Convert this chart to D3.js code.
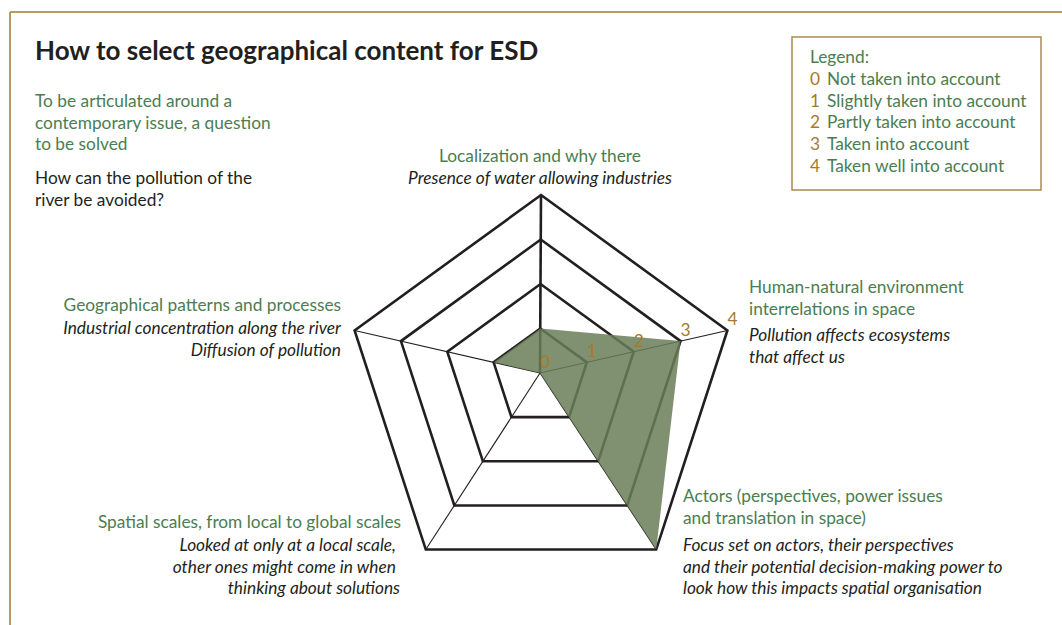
<!DOCTYPE html>
<html>
<head>
<meta charset="utf-8">
<script src="https://cdn.jsdelivr.net/npm/d3@7"></script>
<style>
  body { margin: 0; background: #fff; }
  svg text { font-family: Lato, "Open Sans", sans-serif; }
</style>
</head>
<body>
<svg id="chart" width="1062" height="625"></svg>
<script>
// axis names, clockwise from top
var axisNames = ["Localization", "Human-natural", "Actors", "Spatial scales", "Geographical patterns"];
// score on each axis (0..4)
var scores = [1, 3, 4, 0, 1];
// levels of the grid / scale labels
var levels = [0, 1, 2, 3, 4];
var legendItems = ["Not taken into account", "Slightly taken into account", "Partly taken into account", "Taken into account", "Taken well into account"];

var green = "#4b7d50", gold = "#a67a2c", ink = "#231f20";
var fs = "17.3px";

var svg = d3.select("#chart");

// frame lines (top + left only)
svg.append("line").attr("x1", 10).attr("y1", 12).attr("x2", 1062).attr("y2", 12)
	.style("stroke", gold).style("stroke-width", 1.5);
svg.append("line").attr("x1", 10).attr("y1", 12).attr("x2", 10).attr("y2", 625)
	.style("stroke", gold).style("stroke-width", 1.5);

// title
svg.append("text").attr("x", 35).attr("y", 60)
	.text("How to select geographical content for ESD")
	.style("font-size", "26px").style("font-weight", "bold").style("fill", ink);

function block(x, y, lines, color, italic, anchor) {
	var t = svg.append("text").attr("x", x).attr("y", y)
		.attr("text-anchor", anchor || "start")
		.style("font-size", fs).style("fill", color)
		.style("font-style", italic ? "italic" : "normal");
	lines.forEach(function(l, i) {
		t.append("tspan").attr("x", x).attr("dy", i == 0 ? 0 : 21.5).text(l);
	});
}

block(35, 107, ["To be articulated around a", "contemporary issue, a question", "to be solved"], green);
block(35, 184, ["How can the pollution of the", "river be avoided?"], ink);

// legend
svg.append("rect").attr("x", 792).attr("y", 37).attr("width", 249).attr("height", 153)
	.style("fill", "none").style("stroke", "#a88a50").style("stroke-width", 1.5);
svg.append("text").attr("x", 810).attr("y", 63).text("Legend:")
	.style("font-size", fs).style("fill", green);
legendItems.forEach(function(d, i) {
	svg.append("text").attr("x", 810).attr("y", 85 + i * 21.7).text(levels[i])
		.style("font-size", fs).style("fill", gold);
	svg.append("text").attr("x", 827).attr("y", 85 + i * 21.7).text(d)
		.style("font-size", fs).style("fill", green);
});

// radar geometry: regular pentagon, spokes meet at a hub a bit above the centre
var cx = 541, cy = 391, R = 196;
var hub = [540, 373];
var frac = d3.scaleLinear().domain([0, 4]).range([0, 1]);
var angle = d3.scaleLinear().domain([0, axisNames.length]).range([0, 2 * Math.PI]);

function outer(i) {
	var a = angle(i);
	return [cx + R * Math.sin(a), cy - R * Math.cos(a)];
}
function pt(i, v) {
	var o = outer(i), f = frac(v);
	return [hub[0] + f * (o[0] - hub[0]), hub[1] + f * (o[1] - hub[1])];
}

var g = svg.append("g");

// rings
levels.filter(function(l) { return l > 0; }).forEach(function(l) {
	g.append("polygon")
		.attr("points", axisNames.map(function(d, i) { return pt(i, l).join(","); }).join(" "))
		.style("fill", "none").style("stroke", ink).style("stroke-width", 2.6)
		.style("stroke-linejoin", "miter");
});

// spokes
axisNames.forEach(function(d, i) {
	var o = pt(i, 4);
	g.append("line").attr("x1", hub[0]).attr("y1", hub[1]).attr("x2", o[0]).attr("y2", o[1])
		.style("stroke", ink).style("stroke-width", i == 0 ? 2.6 : 1.1);
});

// score area
g.append("polygon")
	.attr("points", scores.map(function(v, i) { return pt(i, v).join(","); }).join(" "))
	.style("fill", "#697e57").style("fill-opacity", 0.85);

// scale labels along the right spoke
levels.forEach(function(l) {
	var p = pt(1, l);
	svg.append("text").attr("x", p[0] + 5).attr("y", p[1] - 5).attr("text-anchor", "middle")
		.text(l).style("font-size", fs).style("fill", gold);
});

// axis captions
block(540, 162, ["Localization and why there"], green, false, "middle");
block(540, 184, ["Presence of water allowing industries"], ink, true, "middle");

block(749, 293, ["Human-natural environment", "interrelations in space"], green);
block(749, 341, ["Pollution affects ecosystems", "that affect us"], ink, true);

block(683, 502, ["Actors (perspectives, power issues", "and translation in space)"], green);
block(683, 551, ["Focus set on actors, their perspectives", "and their potential decision-making power to", "look how this impacts spatial organisation"], ink, true);

block(401, 528, ["Spatial scales, from local to global scales"], green, false, "end");
block(400, 551, ["Looked at only at a local scale, ", "other ones might come in when ", "thinking about solutions"], ink, true, "end");

block(341, 311, ["Geographical patterns and processes"], green, false, "end");
block(341, 334, ["Industrial concentration along the river", "Diffusion of pollution"], ink, true, "end");
</script>
</body>
</html>
